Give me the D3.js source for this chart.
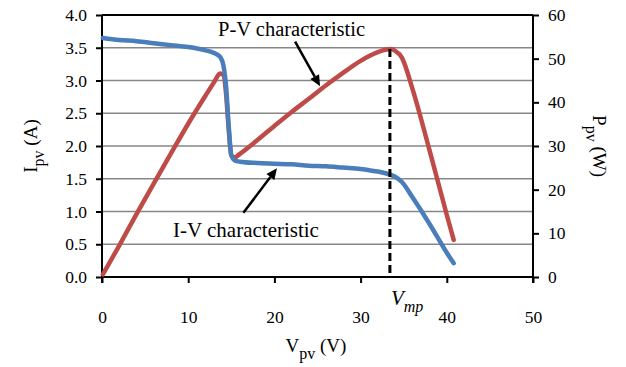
<!DOCTYPE html>
<html>
<head>
<meta charset="utf-8">
<script src="https://cdn.jsdelivr.net/npm/d3@7"></script>
<style>
  body { margin: 0; background: #fff; }
</style>
</head>
<body>
<div id="chart"></div>
<script>
// data
var voltage = [0.1, 2, 4, 6, 8, 10, 12, 13, 13.7, 14.1, 14.4, 14.7, 15.0, 15.4, 16, 18, 20, 22, 24, 26, 28, 30, 31, 32, 33, 33.5, 34, 34.8, 36, 38, 40, 40.8];
var current = [3.65, 3.62, 3.60, 3.57, 3.54, 3.51, 3.46, 3.42, 3.36, 3.22, 2.9, 2.3, 1.86, 1.78, 1.76, 1.74, 1.73, 1.72, 1.70, 1.69, 1.67, 1.65, 1.63, 1.61, 1.58, 1.56, 1.53, 1.45, 1.22, 0.81, 0.37, 0.21];
var power = [0.6, 7.2, 14.4, 21.4, 28.3, 35.1, 41.5, 44.6, 46.6, 46.2, 41.8, 33.8, 27.9, 27.4, 28.2, 31.3, 34.6, 37.8, 40.8, 43.9, 46.8, 49.5, 50.6, 51.5, 52.1, 52.2, 51.8, 50.2, 43.2, 29.0, 14.2, 8.5];
var vmp = 33.4;

var xTicks = [0, 10, 20, 30, 40, 50];
var iTicks = [0, 0.5, 1, 1.5, 2, 2.5, 3, 3.5, 4];
var pTicks = [0, 10, 20, 30, 40, 50, 60];

var serif = "'Liberation Serif', 'Times New Roman', serif";

var svgWidth = 626;
var svgHeight = 367;
var margin = { top: 15, right: 93, bottom: 90, left: 102 };
var width = svgWidth - margin.left - margin.right;
var height = svgHeight - margin.top - margin.bottom;

var svg = d3.select("#chart")
  .append("svg")
  .attr("width", svgWidth)
  .attr("height", svgHeight)
  .attr("font-family", serif);

var chartGroup = svg.append("g")
  .attr("transform", `translate(${margin.left}, ${margin.top})`);

var xScale = d3.scaleLinear().domain([0, 50]).range([0, width]);
var iScale = d3.scaleLinear().domain([0, 4]).range([height, 0]);
var pScale = d3.scaleLinear().domain([0, 60]).range([height, 0]);

// gridlines
chartGroup.append("g")
  .selectAll("line")
  .data(iTicks.slice(1, -1))
  .enter()
  .append("line")
  .attr("x1", 0)
  .attr("x2", width)
  .attr("y1", d => iScale(d))
  .attr("y2", d => iScale(d))
  .attr("stroke", "#878787")
  .attr("stroke-width", 1.4);

// axes
var leftAxis = d3.axisLeft(iScale).tickValues(iTicks).tickFormat(d3.format(".1f")).tickSize(6).tickPadding(9);
var rightAxis = d3.axisRight(pScale).tickValues(pTicks).tickSize(6).tickPadding(9);
var bottomAxis = d3.axisBottom(xScale).tickValues(xTicks).tickSize(6).tickPadding(28);

var yAxisL = chartGroup.append("g").call(leftAxis);
var yAxisR = chartGroup.append("g").attr("transform", `translate(${width}, 0)`).call(rightAxis);
var xAxis = chartGroup.append("g").attr("transform", `translate(0, ${height})`).call(bottomAxis);

[yAxisL, yAxisR, xAxis].forEach(function(ax) {
  ax.attr("font-family", serif).attr("font-size", 17.5);
  ax.select(".domain").remove();
  ax.selectAll(".tick line").attr("stroke", "#000").attr("stroke-width", 2);
  ax.selectAll(".tick text").attr("fill", "#000");
});

// frame
chartGroup.append("line").attr("x1", 0).attr("x2", width).attr("y1", 0).attr("y2", 0).attr("stroke", "#000").attr("stroke-width", 2);
chartGroup.append("line").attr("x1", 0).attr("x2", width).attr("y1", height).attr("y2", height).attr("stroke", "#000").attr("stroke-width", 2);
chartGroup.append("line").attr("x1", 0).attr("x2", 0).attr("y1", 0).attr("y2", height + 6).attr("stroke", "#000").attr("stroke-width", 2);
chartGroup.append("line").attr("x1", width).attr("x2", width).attr("y1", 0).attr("y2", height + 6).attr("stroke", "#000").attr("stroke-width", 2);

// curves
var ivLine = d3.line()
  .x((d, i) => xScale(voltage[i]))
  .y(d => iScale(d))
  .curve(d3.curveMonotoneX);

var pvLine = d3.line()
  .x((d, i) => xScale(voltage[i]))
  .y(d => pScale(d))
  .curve(d3.curveMonotoneX);

chartGroup.append("path")
  .datum(power)
  .attr("d", pvLine)
  .attr("fill", "none")
  .attr("stroke", "#BE4B48")
  .attr("stroke-width", 4.5)
  .attr("stroke-linecap", "round")
  .attr("stroke-linejoin", "round");

chartGroup.append("path")
  .datum(current)
  .attr("d", ivLine)
  .attr("fill", "none")
  .attr("stroke", "#4A7EBB")
  .attr("stroke-width", 4.5)
  .attr("stroke-linecap", "round")
  .attr("stroke-linejoin", "round");

// Vmp dashed line
chartGroup.append("line")
  .attr("x1", xScale(vmp))
  .attr("x2", xScale(vmp))
  .attr("y1", pScale(52.2))
  .attr("y2", height)
  .attr("stroke", "#000")
  .attr("stroke-width", 3)
  .attr("stroke-dasharray", "8,4");

var vmpLabel = chartGroup.append("text")
  .attr("x", xScale(vmp) + 1)
  .attr("y", height + 28)
  .attr("font-size", 21)
  .attr("font-style", "italic");
vmpLabel.append("tspan").text("V");
vmpLabel.append("tspan").attr("dy", 7).attr("font-size", 16).text("mp");

// annotations
function arrow(x1, y1, x2, y2) {
  var ang = Math.atan2(y2 - y1, x2 - x1);
  var len = 11, half = 5;
  var bx = x2 - len * Math.cos(ang), by = y2 - len * Math.sin(ang);
  chartGroup.append("line")
    .attr("x1", x1).attr("y1", y1)
    .attr("x2", bx).attr("y2", by)
    .attr("stroke", "#000").attr("stroke-width", 2.5);
  chartGroup.append("path")
    .attr("d", `M${x2},${y2} L${bx - half * Math.sin(ang)},${by + half * Math.cos(ang)} L${bx + half * Math.sin(ang)},${by - half * Math.cos(ang)} Z`)
    .attr("fill", "#000");
}

chartGroup.append("text")
  .attr("x", 116)
  .attr("y", 21)
  .attr("font-size", 20.5)
  .text("P-V characteristic");
arrow(xScale(22.4), pScale(53.9), xScale(25.3), pScale(43.7));

chartGroup.append("text")
  .attr("x", 71)
  .attr("y", 222)
  .attr("font-size", 21)
  .text("I-V characteristic");
arrow(xScale(16.4), iScale(0.98), xScale(20.3), iScale(1.66));

// axis titles
var xTitle = svg.append("text")
  .attr("x", 316)
  .attr("y", 352)
  .attr("text-anchor", "middle")
  .attr("font-size", 19);
xTitle.append("tspan").text("V");
xTitle.append("tspan").attr("dy", 7).attr("font-size", 16).text("pv");
xTitle.append("tspan").attr("dy", -7).text(" (V)");

var iTitle = svg.append("text")
  .attr("transform", "translate(37, 146) rotate(-90)")
  .attr("text-anchor", "middle")
  .attr("font-size", 19);
iTitle.append("tspan").text("I");
iTitle.append("tspan").attr("dy", 7).attr("font-size", 16).text("pv");
iTitle.append("tspan").attr("dy", -7).text(" (A)");

var pTitle = svg.append("text")
  .attr("transform", "translate(593, 146) rotate(90)")
  .attr("text-anchor", "middle")
  .attr("font-size", 19);
pTitle.append("tspan").text("P");
pTitle.append("tspan").attr("dy", 7).attr("font-size", 16).text("pv");
pTitle.append("tspan").attr("dy", -7).text(" (W)");
</script>
</body>
</html>
